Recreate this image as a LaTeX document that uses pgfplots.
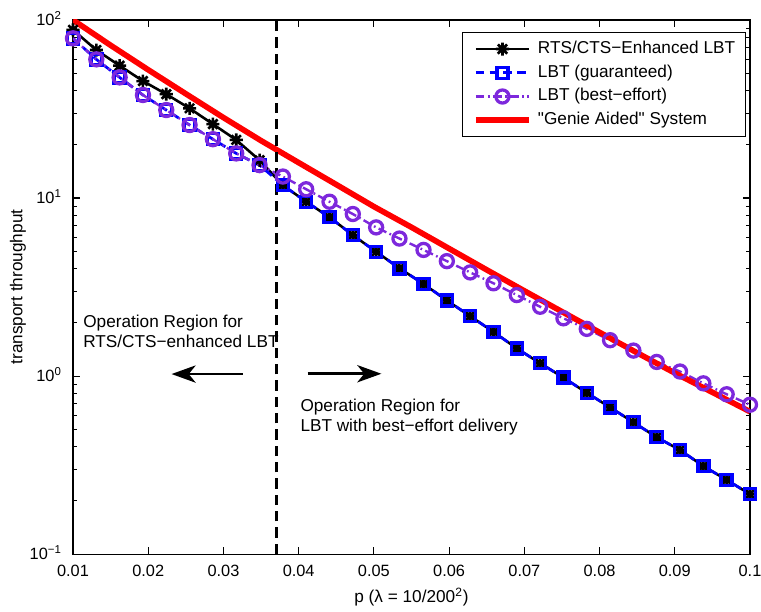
\documentclass[border=0pt]{standalone}
\usepackage{fontspec}
\setmainfont{Liberation Sans}
\usepackage{pgfplots}
\pgfplotsset{compat=1.18}
\usepackage{pgfplotstable}
\usetikzlibrary{arrows.meta}

\definecolor{lbtblue}{RGB}{0,0,255}
\definecolor{lbtpurple}{RGB}{125,40,220}

% matlab-like '*' marker (plus + cross)
\pgfdeclareplotmark{mstar}{%
  \pgfpathmoveto{\pgfqpoint{0pt}{\pgfplotmarksize}}%
  \pgfpathlineto{\pgfqpoint{0pt}{-\pgfplotmarksize}}%
  \pgfpathmoveto{\pgfqpoint{\pgfplotmarksize}{0pt}}%
  \pgfpathlineto{\pgfqpoint{-\pgfplotmarksize}{0pt}}%
  \pgfpathmoveto{\pgfqpoint{0.707\pgfplotmarksize}{0.707\pgfplotmarksize}}%
  \pgfpathlineto{\pgfqpoint{-0.707\pgfplotmarksize}{-0.707\pgfplotmarksize}}%
  \pgfpathmoveto{\pgfqpoint{0.707\pgfplotmarksize}{-0.707\pgfplotmarksize}}%
  \pgfpathlineto{\pgfqpoint{-0.707\pgfplotmarksize}{0.707\pgfplotmarksize}}%
  \pgfusepathqstroke}

\pgfplotstableread{
p      rts   guar  best
0.0100 88.0  78.9  78.9
0.0131 67.8  60.1  60.1
0.0162 55.4  47.6  47.6
0.0193 45.4  37.9  37.9
0.0224 38.3  31.2  31.2
0.0255 31.9  25.7  25.7
0.0286 26.0  21.4  21.4
0.0317 21.2  17.8  17.8
0.0348 16.3  15.3  15.3
0.0379 11.8  11.8  13.2
0.0410 9.53  9.53  11.2
0.0441 7.80  7.80  9.53
0.0472 6.19  6.19  8.13
0.0503 4.99  4.99  6.84
0.0534 4.03  4.03  5.92
0.0566 3.29  3.29  5.11
0.0597 2.66  2.66  4.42
0.0628 2.17  2.17  3.82
0.0659 1.77  1.77  3.32
0.0690 1.43  1.43  2.85
0.0721 1.18  1.18  2.45
0.0752 0.98  0.98  2.11
0.0783 0.805 0.805 1.84
0.0814 0.667 0.667 1.59
0.0845 0.550 0.550 1.39
0.0876 0.453 0.453 1.20
0.0907 0.384 0.384 1.06
0.0938 0.312 0.312 0.91
0.0969 0.261 0.261 0.79
0.1000 0.217 0.217 0.69
}\lbtdata

\pgfplotstableread{
p     genie
0.010 100
0.015 72.1
0.020 52.5
0.025 38.5
0.030 28.3
0.035 21.0
0.040 15.8
0.045 11.9
0.050 8.95
0.055 6.85
0.060 5.20
0.065 3.95
0.070 3.01
0.075 2.30
0.080 1.76
0.085 1.35
0.090 1.04
0.095 0.81
0.100 0.631
}\geniedata

\begin{document}
\begin{tikzpicture}
\useasboundingbox (-42.44pt,-33.14pt) rectangle (400pt,322.13pt);
\begin{axis}[
    at={(0,0)}, anchor=south west,
    scale only axis,
    width=393.6pt, height=310.5pt,
    ymode=log,
    xmin=0.01, xmax=0.1, ymin=0.1, ymax=100,
    xtick={0.01,0.02,0.03,0.04,0.05,0.06,0.07,0.08,0.09,0.1},
    xticklabels={0.01,0.02,0.03,0.04,0.05,0.06,0.07,0.08,0.09,0.1},
    ytick={0.1,1,10,100},
    yticklabels={10\textsuperscript{−1},10\textsuperscript{0},10\textsuperscript{1},10\textsuperscript{2}},
    minor ytick={0.2,0.3,0.4,0.5,0.6,0.7,0.8,0.9,2,3,4,5,6,7,8,9,20,30,40,50,60,70,80,90},
    tick align=inside,
    major tick length=4pt,
    minor tick length=2.5pt,
    axis line style={line width=0.6pt},
    every tick/.style={black, line width=0.6pt},
    tick label style={font=\fontsize{9.5}{11}\selectfont},
    xticklabel style={anchor=center, yshift=-9.7pt},
    yticklabel style={anchor=base east, xshift=-3pt, yshift=-3.4pt},
    xlabel={p (λ = 10/200\textsuperscript{2})},
    ylabel={transport throughput},
    xlabel style={font=\fontsize{10}{12}\selectfont, at={(axis description cs:0.5,-0.0805)}, anchor=center},
    ylabel style={font=\fontsize{10}{12}\selectfont, at={(axis description cs:-0.0812,0.5)}, anchor=center},
    legend image code/.code={\draw[mark repeat=2,mark phase=2] plot coordinates {(0pt,0pt) (15.5pt,0pt) (31pt,0pt)};},
    legend cell align=left,
    legend style={
        at={(rel axis cs:0.994,0.9775)}, anchor=north east,
        draw=black, line width=0.6pt, fill=white,
        font=\fontsize{10}{12}\selectfont,
        inner xsep=6pt, inner ysep=5pt,
        nodes={inner sep=0pt, text height=7.2pt, text depth=2pt},
        row sep=4.6pt, column sep=3.5pt,
    },
]
\addplot[black, line width=1.5pt, mark=mstar, mark size=3.8pt,
    mark options={solid, line width=1.5pt}] table[x=p, y=rts] {\lbtdata};
\addlegendentry{RTS/CTS−Enhanced LBT}
\addplot[lbtblue, line width=1.6pt, dash pattern=on 5pt off 3pt, mark=square, mark size=3.2pt,
    mark options={solid, line width=2pt, fill=none}] table[x=p, y=guar] {\lbtdata};
\addlegendentry{LBT (guaranteed)}
\addplot[lbtpurple, line width=1.4pt, dash pattern=on 5pt off 2pt on 1pt off 2pt, mark=o, mark size=3.8pt,
    mark options={solid, line width=1.9pt, fill=none}] table[x=p, y=best] {\lbtdata};
\addlegendentry{LBT (best−effort)}
\addplot[red, line width=3.3pt, no marks] table[x=p, y=genie] {\geniedata};
\addlegendentry{\textquotedbl Genie Aided\textquotedbl{} System}

% operating-point boundary
\addplot[black, line width=1.8pt, dash pattern=on 6pt off 3.5pt, no marks, forget plot]
    coordinates {(0.037,0.1) (0.037,100)};

\draw[line width=1.6pt, -{Stealth[length=14pt, width=10pt, inset=4pt]}]
    (axis cs:0.0326,1.026) -- (axis cs:0.0231,1.026);
\draw[line width=1.6pt, -{Stealth[length=14pt, width=10pt, inset=4pt]}]
    (axis cs:0.0412,1.03) -- (axis cs:0.0510,1.03);

\node[anchor=west, align=left, inner sep=0pt, font=\fontsize{10}{11.6}\selectfont]
    at (axis cs:0.01133,1.79) {Operation Region for\\RTS/CTS−enhanced LBT};
\node[anchor=west, align=left, inner sep=0pt, font=\fontsize{10}{11.6}\selectfont]
    at (axis cs:0.0402,0.589) {Operation Region for\\LBT with best−effort delivery};
\end{axis}
\end{tikzpicture}
\end{document}
